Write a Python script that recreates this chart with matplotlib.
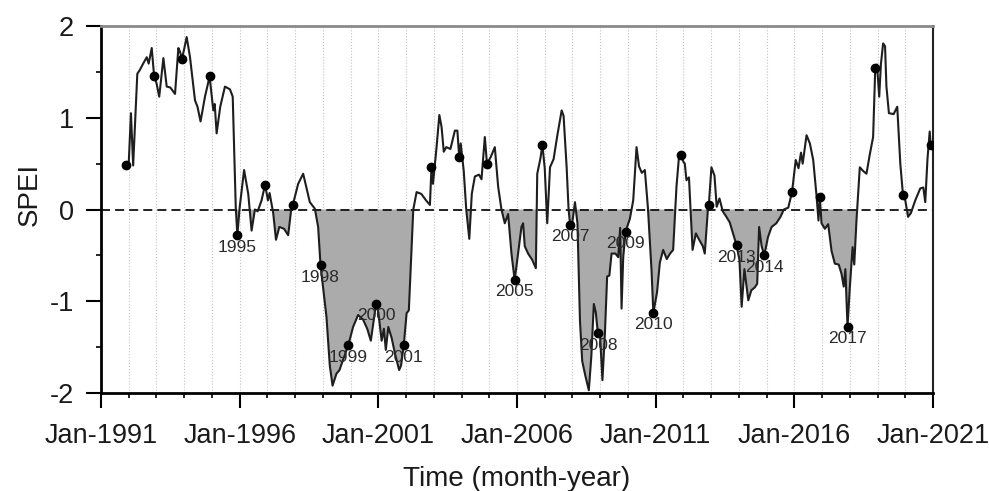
import numpy as np
import matplotlib
matplotlib.use("Agg")
import matplotlib.pyplot as plt

plt.rcParams['font.family'] = ['Liberation Sans', 'DejaVu Sans']

# SPEI trace, time in decimal years
line_years = [
	1992.00, 1992.08, 1992.16, 1992.31, 1992.40, 1992.52, 1992.65, 1992.72, 1992.83,
	1993.00, 1993.10, 1993.25, 1993.37, 1993.50, 1993.67, 1993.79, 1993.85,
	1994.00, 1994.09, 1994.21, 1994.39, 1994.48, 1994.59, 1994.75,
	1995.05, 1995.10, 1995.17, 1995.30, 1995.47, 1995.65, 1995.75, 1995.86,
	1996.00, 1996.16, 1996.31, 1996.43, 1996.55, 1996.65, 1996.79,
	1997.02, 1997.08, 1997.21, 1997.31, 1997.43, 1997.60, 1997.75, 1997.87,
	1998.11, 1998.29, 1998.40, 1998.53, 1998.71, 1998.83,
	1999.13, 1999.25, 1999.35, 1999.49, 1999.60, 1999.75,
	2000.09, 2000.27, 2000.45, 2000.60, 2000.73,
	2001.00, 2001.12, 2001.20, 2001.27, 2001.36, 2001.48, 2001.60, 2001.75, 2001.82,
	2002.02, 2002.10, 2002.26, 2002.38, 2002.55, 2002.72, 2002.86,
	2002.97, 2003.10, 2003.20, 2003.28, 2003.36, 2003.45, 2003.60, 2003.76, 2003.85,
	2003.97, 2004.08, 2004.17, 2004.28, 2004.37, 2004.48, 2004.63, 2004.72, 2004.84,
	2005.05, 2005.20, 2005.32, 2005.44, 2005.56, 2005.68, 2005.80,
	2006.04, 2006.16, 2006.22, 2006.28, 2006.40, 2006.55, 2006.68, 2006.73, 2006.84,
	2007.00, 2007.09, 2007.19, 2007.32, 2007.45, 2007.61, 2007.68, 2007.79, 2007.86,
	2008.00, 2008.09, 2008.18, 2008.27, 2008.35, 2008.47, 2008.59, 2008.68, 2008.77, 2008.84,
	2009.00, 2009.08, 2009.17, 2009.25, 2009.33, 2009.41, 2009.55, 2009.65, 2009.72, 2009.77, 2009.83,
	2010.07, 2010.19, 2010.31, 2010.40, 2010.50, 2010.61, 2010.72, 2010.85,
	2011.05, 2011.15, 2011.27, 2011.40, 2011.52, 2011.63, 2011.75, 2011.85,
	2012.00, 2012.05, 2012.11, 2012.20, 2012.33, 2012.45, 2012.57, 2012.70, 2012.77, 2012.89,
	2013.01, 2013.12, 2013.20, 2013.30, 2013.42, 2013.55, 2013.67, 2013.79,
	2014.02, 2014.10, 2014.20, 2014.34, 2014.45, 2014.57, 2014.66, 2014.73, 2014.82,
	2015.05, 2015.18, 2015.35, 2015.50, 2015.62, 2015.78,
	2016.05, 2016.15, 2016.24, 2016.30, 2016.44, 2016.56, 2016.68, 2016.80, 2016.87,
	2016.98, 2017.10, 2017.22, 2017.34, 2017.46, 2017.60, 2017.70, 2017.78, 2017.84,
	2018.00, 2018.10, 2018.16, 2018.24, 2018.36, 2018.48, 2018.60, 2018.72, 2018.84,
	2018.98, 2019.06, 2019.12, 2019.20, 2019.27, 2019.32, 2019.41, 2019.58, 2019.71, 2019.82,
	2020.00, 2020.10, 2020.20, 2020.36, 2020.54, 2020.65, 2020.72, 2020.80, 2020.88,
]
line_spei = [
	0.50, 1.05, 0.48, 1.48, 1.52, 1.59, 1.66, 1.59, 1.76,
	1.38, 1.23, 1.65, 1.34, 1.33, 1.26, 1.76, 1.72,
	1.75, 1.88, 1.66, 1.19, 1.12, 0.96, 1.23,
	1.08, 1.15, 0.83, 1.12, 1.34, 1.31, 1.23, 0.02,
	0.02, 0.43, 0.17, -0.23, 0.00, -0.02, 0.10,
	0.10, 0.18, -0.04, -0.33, -0.19, -0.21, -0.28, 0.03,
	0.28, 0.39, 0.25, 0.08, 0.01, -0.19,
	-1.17, -1.70, -1.92, -1.79, -1.75, -1.62,
	-1.28, -1.15, -1.20, -1.30, -1.43,
	-1.12, -1.43, -1.30, -1.53, -1.28, -1.40, -1.57, -1.75, -1.70,
	-1.13, -1.10, 0.00, 0.19, 0.17, 0.10, 0.05,
	0.28, 0.68, 1.03, 0.90, 0.63, 0.68, 0.66, 0.86, 0.86,
	0.72, 0.42, 0.00, -0.32, 0.17, 0.36, 0.38, 0.33, 0.79,
	0.57, 0.68, 0.25, 0.00, -0.15, -0.05, -0.48,
	-0.48, -0.19, -0.15, -0.40, -0.48, -0.55, -0.64, 0.39, 0.55,
	0.45, -0.15, 0.46, 0.55, 0.80, 1.08, 1.02, 0.46, 0.00,
	-0.13, 0.08, -0.15, -1.21, -1.65, -1.82, -1.97, -1.60, -1.03, -1.12,
	-1.40, -1.86, -1.35, -0.73, -0.72, -0.48, -0.48, -0.52, -0.20, -1.08, -0.52,
	-0.10, 0.10, 0.68, 0.47, 0.40, 0.43, 0.02, -0.66,
	-0.90, -0.58, -0.44, -0.54, -0.48, -0.44, 0.25, 0.61,
	0.52, 0.50, 0.32, 0.35, -0.44, -0.26, -0.33, -0.40, -0.48, 0.03,
	0.46, 0.37, 0.03, 0.12, -0.02, -0.08, -0.14, -0.26,
	-0.55, -1.06, -0.65, -0.99, -0.88, -0.85, -0.81, -0.19, -0.40,
	-0.30, -0.19, -0.15, -0.08, 0.00, 0.02,
	0.54, 0.45, 0.62, 0.50, 0.81, 0.72, 0.54, 0.15, -0.12,
	-0.15, -0.21, -0.16, -0.45, -0.59, -0.60, -0.70, -0.84, -0.65,
	-0.85, -0.41, -0.60, -0.12, 0.46, 0.42, 0.39, 0.60, 0.79,
	1.58, 1.23, 1.58, 1.81, 1.78, 1.34, 1.05, 1.04, 1.12, 0.50,
	0.10, -0.08, -0.04, 0.10, 0.23, 0.24, 0.08, 0.55, 0.85,
]

# December value of each year (marked dots)
dot_years = list(range(1991, 2021))
dot_spei = [
	0.48, 1.45, 1.64, 1.45, -0.28, 0.27, 0.05, -0.61, -1.48, -1.03,
	-1.48, 0.46, 0.57, 0.50, -0.77, 0.70, -0.17, -1.35, -0.24, -1.13,
	0.59, 0.05, -0.39, -0.50, 0.19, 0.14, -1.28, 1.54, 0.16, 0.70,
]

tick_years = [1991, 1996, 2001, 2006, 2011, 2016, 2021]
tick_labels = ['Jan-%d' % y for y in tick_years]

dot_t = np.array(dot_years) + 11 / 12
t = np.concatenate([np.array(line_years), dot_t])
v = np.concatenate([np.array(line_spei), np.array(dot_spei)])
order = np.argsort(t)
t = t[order]
v = v[order]

fig = plt.figure(figsize=(9.89, 4.91), dpi=100)
ax = fig.add_axes([0.1021, 0.1996, 0.8413, 0.7474])

for yr in range(1992, 2021):
	ax.axvline(yr, color='#c4c4c4', lw=0.8, ls=':', zorder=0)

ax.fill_between(t, v, 0, where=v < 0, interpolate=True, color='#ababab', lw=0, zorder=1)
ax.axhline(0, color='#111111', lw=1.3, ls=(0, (5, 2.8)), zorder=2)
ax.plot(t, v, color='#1e1e1e', lw=1.5, zorder=3)
ax.plot(dot_t, dot_spei, 'o', color='black', ms=6, zorder=4)

for yr, x, val in zip(dot_years, dot_t, dot_spei):
	if val < 0:
		ax.annotate(str(yr), (x, val), xytext=(0, -8.5), textcoords='offset points',
			ha='center', va='center', fontsize=12.5, color='#2a2a2a', zorder=5)

ax.set_xlim(1991, 2021)
ax.set_ylim(-2, 2)
ax.set_xticks(tick_years)
ax.set_xticklabels(tick_labels)
ax.set_xticks(range(1991, 2022), minor=True)
ax.set_yticks([-2, -1, 0, 1, 2])
ax.set_yticklabels(['-2', '-1', '0', '1', '2'])
ax.set_yticks([-1.5, -0.5, 0.5, 1.5], minor=True)

ax.tick_params(which='major', direction='out', length=10.5, width=1.5, labelsize=19.5,
	labelcolor='#1a1a1a')
ax.tick_params(axis='x', which='major', pad=11)
ax.tick_params(axis='y', which='major', pad=9)
ax.tick_params(which='minor', direction='out', length=3.6, width=1.2)

ax.spines['top'].set_color('#8a8a8a')
ax.spines['top'].set_linewidth(2)
ax.spines['left'].set_linewidth(2)
ax.spines['bottom'].set_linewidth(2)
ax.spines['right'].set_linewidth(1.5)
ax.spines['right'].set_color('#222222')

ax.set_ylabel('SPEI', fontsize=20, color='#1a1a1a')
ax.yaxis.set_label_coords(-0.07, 0.54)
ax.set_xlabel('Time (month-year)', fontsize=20, color='#1a1a1a', labelpad=12)

fig.savefig('out.png', dpi=100)
